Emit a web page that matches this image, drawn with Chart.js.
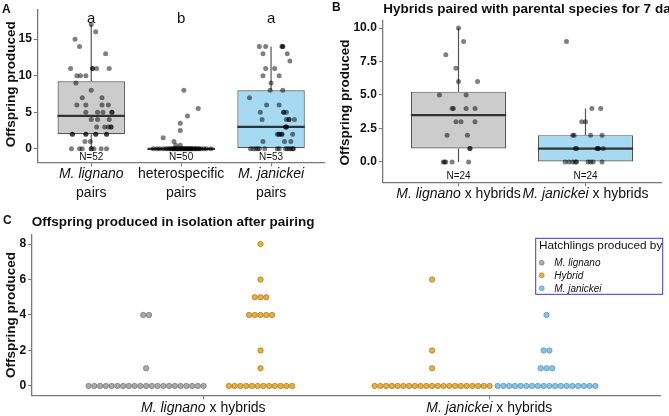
<!DOCTYPE html>
<html>
<head>
<meta charset="utf-8">
<script src="https://cdn.jsdelivr.net/npm/chart.js@4.4.1/dist/chart.umd.min.js"></script>
<style>
  body { margin: 0; background: #fff; }
  #wrap { position: relative; width: 669px; height: 416px; overflow: hidden; }
  canvas { position: absolute; }
</style>
</head>
<body>
<div id="wrap">
  <canvas id="panelA" width="330" height="205" style="left:0;top:0"></canvas>
  <canvas id="panelB" width="339" height="205" style="left:330px;top:0"></canvas>
  <canvas id="panelC" width="669" height="211" style="left:0;top:205px"></canvas>
</div>
<script>
// ---- DATA ----
// A: offspring produced per pair (jittered points)
const aCats = ['M. lignano', 'heterospecific', 'M. janickei'];
const aN = [52, 50, 53];
const aLetters = ['a', 'b', 'a'];
const aQ1 = [2, 0, 0];
const aMedian = [4.5, 0, 3];
const aQ3 = [9.25, 0, 8];
const aWhiskLo = [0, 0, 0];
const aWhiskHi = [17, 0, 14];
const aLignano = [17, 16, 15, 14, 13, 11, 11, 11, 11, 11, 10, 10, 10, 9, 8, 7, 7, 6, 6, 6, 6, 5, 5, 5, 5, 5,
  4, 4, 4, 3, 3, 3, 3, 3, 2, 2, 2, 2, 2, 2, 2, 2, 1, 1, 0, 0, 0, 0, 0, 0, 0, 0];
const aLignanoJit = [0, .05, -.18, -.13, .16, -.23, .015, .015, .06, .2, -.16, -.12, -.06, -.17, 0, -.1, .12,
  -.16, -.06, .12, .19, -.06, .07, .13, .23, .23, 0, .07, .2, .06, .15, .19, .22, .22, -.21, -.21, -.06, -.06,
  .05, .05, .17, .17, -.07, -.01, -.22, -.13, -.1, 0, 0, .03, .11, .17];
const aHetero = [8, 5.5, 4.5, 3.5, 2.5, 1.5, 1, 0.5, 0.5,
  0, 0, 0, 0, 0, 0, 0, 0, 0, 0, 0, 0, 0, 0, 0, 0, 0, 0, 0, 0, 0, 0, 0, 0, 0, 0, 0, 0, 0, 0, 0, 0, 0, 0, 0, 0, 0, 0, 0, 0, 0];
const aHeteroJit = [.03, .19, .07, -.01, -.01, -.2, -.08, -.06, -.01,
  -.31, -.27, -.24, -.2, -.17, -.15, -.13, -.12, -.1, -.09, -.08, -.07, -.06, -.05, -.04, -.03, -.02, 0, 0, .01,
  .02, .03, .04, .05, .06, .07, .08, .09, .1, .11, .12, .13, .15, .16, .17, .19, .2, .22, .25, .28, .33];
const aJanickei = [14, 14, 14, 14, 14, 13, 13, 12, 11, 11, 10, 10, 9, 8, 8, 7, 6, 6, 5, 5, 5, 5, 4, 4, 4, 4, 4,
  3, 3, 3, 2, 2, 2, 2, 2, 2, 1, 1, 1, 0, 0, 0, 0, 0, 0, 0, 0, 0, 0, 0, 0, 0, 0];
const aJanickeiJit = [-.13, -.06, .12, .13, .13, -.09, .18, .21, -.06, .04, -.09, .09, 0, -.01, .13, -.24, -.05, .09,
  -.12, .14, .14, .17, -.1, .17, .2, .2, .26, .16, .17, .17, .07, .09, .09, .12, .12, .24, -.09, .15, .22,
  -.23, -.2, -.17, -.15, -.13, -.07, .07, .09, .16, .18, .2, .22, .24, .25];

// B: hybrids paired with parental species for 7 days
const bCats = ['M. lignano', 'M. janickei'];
const bN = [24, 24];
const bQ1 = [1, 0];
const bMedian = [3.5, 1];
const bQ3 = [5.25, 2];
const bWhiskLo = [0, 0];
const bWhiskHi = [10, 4];
const bLignano = [10, 9, 8, 7, 6, 6, 5, 5, 4, 4, 4, 4, 3, 3, 3, 2, 2, 1, 1, 0, 0, 0, 0, 0];
const bLignanoJit = [0, .04, -.1, -.02, 0, .15, -.15, .06, -.05, -.04, .06, .13, -.02, .02, .13, -.09, .07, .09, .09,
  -.12, -.11, -.1, -.05, .08];
const bJanickei = [9, 4, 4, 3, 3, 2, 2, 2, 2, 1, 1, 1, 1, 1, 1, 0, 0, 0, 0, 0, 0, 0, 0, 0];
const bJanickeiJit = [-.15, .05, .12, -.03, 0, -.1, -.09, .04, .13, -.08, -.07, .09, .1, .1, .14,
  -.16, -.13, -.1, -.08, -.07, .02, .04, .06, .13];

// C: offspring produced in isolation after pairing (number of individuals per level)
const cCats = ['M. lignano', 'M. janickei'];
const isoLevels = [0, 1, 2, 4, 5, 6, 8];
const isoLigLig = [21, 1, 0, 2, 0, 0, 0];   // M. lignano x hybrids, hatchlings by M. lignano
const isoLigHyb = [12, 1, 1, 5, 3, 1, 1];   // M. lignano x hybrids, hatchlings by Hybrid
const isoJanHyb = [21, 1, 1, 0, 0, 1, 0];   // M. janickei x hybrids, hatchlings by Hybrid
const isoJanJan = [18, 3, 2, 1, 0, 0, 0];   // M. janickei x hybrids, hatchlings by M. janickei
const legendLabels = ['M. lignano', 'Hybrid', 'M. janickei'];

// ---- STYLE ----
const FONT = '"Liberation Sans", Arial, Helvetica, sans-serif';
const AXIS = '#7a7a7a';
const GREY_FILL = '#cccccc';
const BLUE_FILL = '#a6d9f2';
const PT = 'rgba(0,0,0,0.5)';
const DOT_COLORS = ['#a9a9a9', '#e8b03e', '#86c4ea'];
const DOT_BORDERS = ['#666', '#8a6a22', '#4f7f9f'];
const DOT_STEP = 0.0201;

Chart.defaults.font.family = FONT;

function yAxis(min, max, tickVals, width, fmt) {
  return {
    type: 'linear', position: 'left', min, max,
    afterFit: s => { s.width = width; },
    afterBuildTicks: s => { s.ticks = tickVals.map(v => ({ value: v })); },
    border: { display: true, color: AXIS, width: 1.3 },
    grid: { drawOnChartArea: false, drawTicks: true, tickLength: 3.5, color: AXIS, lineWidth: 1.1 },
    ticks: { padding: 2, color: '#111', autoSkip: false, font: { size: 12, weight: 'bold' }, callback: v => fmt(v) }
  };
}

function xAxis(n, height) {
  return {
    type: 'linear', position: 'bottom', min: 0.4, max: n + 0.6, offset: false,
    afterFit: s => { s.height = height; },
    afterBuildTicks: s => { s.ticks = Array.from({ length: n }, (_, i) => ({ value: i + 1 })); },
    border: { display: true, color: AXIS, width: 1.3 },
    grid: { drawOnChartArea: false, drawTicks: true, tickLength: 3.5, color: AXIS, lineWidth: 1.1, offset: false },
    ticks: { autoSkip: false, callback: () => '' }
  };
}

function seg(data, color, width, order) {
  return { type: 'line', data, borderColor: color, borderWidth: width, pointRadius: 0, fill: false, tension: 0, order };
}

function boxDatasets(q1, med, q3, lo, hi, fills) {
  const ds = [{
    type: 'bar',
    data: q1.map((q, i) => ({ x: i + 1, y: [q, q3[i]] })),
    backgroundColor: fills, borderColor: '#555', borderWidth: 1.2, borderSkipped: false,
    barPercentage: 0.75, categoryPercentage: 1, order: 4
  }];
  q1.forEach((q, i) => {
    const c = i + 1;
    ds.push(seg([{ x: c - 0.375, y: med[i] }, { x: c + 0.375, y: med[i] }], '#333', 2.2, 1));
    if (hi[i] > q3[i]) ds.push(seg([{ x: c, y: q3[i] }, { x: c, y: hi[i] }], '#555', 1.2, 3));
    if (lo[i] < q1[i]) ds.push(seg([{ x: c, y: lo[i] }, { x: c, y: q1[i] }], '#555', 1.2, 3));
  });
  return ds;
}

function jitterPoints(cat, vals, jit) {
  return vals.map((v, i) => ({ x: cat + jit[i], y: v }));
}

function stackDots(cat, side, counts) {
  const pts = [];
  isoLevels.forEach((v, k) => {
    const n = counts[k];
    for (let j = 0; j < n; j++) pts.push({ x: cat + side + (j - (n - 1) / 2) * DOT_STEP, y: v });
  });
  return pts;
}

// text with italic species name followed by plain text, centred on cx
function mixedText(ctx, parts, cx, y, size) {
  let total = 0;
  parts.forEach(p => { ctx.font = (p[1] ? 'italic ' : '') + size + 'px ' + FONT; total += ctx.measureText(p[0]).width; });
  let x = cx - total / 2;
  ctx.textAlign = 'left';
  parts.forEach(p => {
    ctx.font = (p[1] ? 'italic ' : '') + size + 'px ' + FONT;
    ctx.fillText(p[0], x, y);
    x += ctx.measureText(p[0]).width;
  });
}

function yTitle(ctx, text, x, y, size) {
  ctx.save();
  ctx.translate(x, y);
  ctx.rotate(-Math.PI / 2);
  ctx.font = 'bold ' + size + 'px ' + FONT;
  ctx.textAlign = 'center';
  ctx.textBaseline = 'alphabetic';
  ctx.fillStyle = '#111';
  ctx.fillText(text, 0, 0);
  ctx.restore();
}

function textPlugin(draw) {
  return { id: 'panelText', afterDraw(chart) { const ctx = chart.ctx; ctx.save(); ctx.fillStyle = '#111'; draw(chart, ctx); ctx.restore(); } };
}

const baseOpts = {
  responsive: false, animation: false, events: [],
  plugins: { legend: { display: false }, tooltip: { enabled: false } }
};

// ---- PANEL A ----
new Chart(document.getElementById('panelA'), {
  type: 'scatter',
  data: {
    datasets: [
      { data: jitterPoints(1, aLignano, aLignanoJit).concat(jitterPoints(2, aHetero, aHeteroJit), jitterPoints(3, aJanickei, aJanickeiJit)),
        backgroundColor: PT, borderWidth: 0, pointRadius: 2.5, order: 0 },
      ...boxDatasets(aQ1, aMedian, aQ3, aWhiskLo, aWhiskHi, [GREY_FILL, GREY_FILL, BLUE_FILL])
    ]
  },
  options: {
    ...baseOpts,
    layout: { padding: { top: 2, right: 5, left: 0, bottom: 0 } },
    scales: { x: xAxis(3, 42.3), y: yAxis(-1.9, 19.1, [0, 5, 10, 15], 37.3, v => String(v)) }
  },
  plugins: [textPlugin((chart, ctx) => {
    const xs = chart.scales.x, ys = chart.scales.y;
    ctx.font = 'bold 12px ' + FONT; ctx.textAlign = 'left';
    ctx.fillText('A', 2, 12.7);
    yTitle(ctx, 'Offspring produced', 15, 84.2, 13.5);
    aCats.forEach((c, i) => {
      const cx = xs.getPixelForValue(i + 1);
      ctx.textAlign = 'center';
      ctx.font = '15px ' + FONT;
      ctx.fillText(aLetters[i], cx, ys.getPixelForValue(17.25));
      ctx.font = '10px ' + FONT;
      ctx.fillText('N=' + aN[i], cx, ys.getPixelForValue(-1.48));
      mixedText(ctx, [[c, c.startsWith('M.')]], cx, 177.7, 14);
      mixedText(ctx, [['pairs', false]], cx, 196.7, 14);
    });
  })]
});

// ---- PANEL B ----
new Chart(document.getElementById('panelB'), {
  type: 'scatter',
  data: {
    datasets: [
      { data: jitterPoints(1, bLignano, bLignanoJit).concat(jitterPoints(2, bJanickei, bJanickeiJit)),
        backgroundColor: PT, borderWidth: 0, pointRadius: 2.5, order: 0 },
      ...boxDatasets(bQ1, bMedian, bQ3, bWhiskLo, bWhiskHi, [GREY_FILL, BLUE_FILL])
    ]
  },
  options: {
    ...baseOpts,
    layout: { padding: { top: 20.7, right: 7.3, left: 0, bottom: 0 } },
    scales: { x: xAxis(2, 22.3), y: yAxis(-1.55, 10.55, [0, 2.5, 5, 7.5, 10], 52.3, v => v.toFixed(1)) }
  },
  plugins: [textPlugin((chart, ctx) => {
    const xs = chart.scales.x, ys = chart.scales.y;
    ctx.font = 'bold 12px ' + FONT; ctx.textAlign = 'left';
    ctx.fillText('B', 2, 11);
    ctx.font = 'bold 13.5px ' + FONT;
    ctx.fillText('Hybrids paired with parental species for 7 days', chart.chartArea.left + 1, 13.3);
    yTitle(ctx, 'Offspring produced', 19, 102.5, 13.5);
    bCats.forEach((c, i) => {
      const cx = xs.getPixelForValue(i + 1);
      ctx.textAlign = 'center';
      ctx.font = '10px ' + FONT;
      ctx.fillText('N=' + bN[i], cx, ys.getPixelForValue(-1.25));
      mixedText(ctx, [[c, true], [' x hybrids', false]], cx, 198.3, 14);
    });
  })]
});

// ---- PANEL C ----
const dotStyle = k => ({ backgroundColor: DOT_COLORS[k], borderColor: DOT_BORDERS[k], borderWidth: 0.6, pointRadius: 2.7 });
new Chart(document.getElementById('panelC'), {
  type: 'scatter',
  data: {
    datasets: [
      { data: stackDots(1, -0.2, isoLigLig), ...dotStyle(0) },
      { data: stackDots(1, 0.2, isoLigHyb).concat(stackDots(2, -0.2, isoJanHyb)), ...dotStyle(1) },
      { data: stackDots(2, 0.2, isoJanJan), ...dotStyle(2) }
    ]
  },
  options: {
    ...baseOpts,
    layout: { padding: { top: 29.3, right: 8.1, left: 0, bottom: 0 } },
    scales: { x: xAxis(2, 20.3), y: yAxis(-0.55, 8.55, [0, 2, 4, 6, 8], 31.7, v => String(v)) }
  },
  plugins: [textPlugin((chart, ctx) => {
    const xs = chart.scales.x;
    ctx.font = 'bold 12px ' + FONT; ctx.textAlign = 'left';
    ctx.fillText('C', 3, 19.3);
    ctx.font = 'bold 13.5px ' + FONT;
    ctx.fillText('Offspring produced in isolation after pairing', chart.chartArea.left, 20.7);
    yTitle(ctx, 'Offspring produced', 15, 110, 13.5);
    cCats.forEach((c, i) => {
      mixedText(ctx, [[c, true], [' x hybrids', false]], xs.getPixelForValue(i + 1), 207.3, 14);
    });
    // legend box
    ctx.strokeStyle = '#3f3fa6'; ctx.lineWidth = 1;
    ctx.strokeRect(535.7, 33.3, 127, 56);
    ctx.fillStyle = '#111'; ctx.textAlign = 'left';
    ctx.font = '11.8px ' + FONT;
    ctx.fillText('Hatchlings produced by', 539, 44.3);
    const rows = [57.7, 70.3, 83.3];
    legendLabels.forEach((lab, k) => {
      ctx.beginPath();
      ctx.arc(541.7, rows[k], 2.5, 0, Math.PI * 2);
      ctx.fillStyle = DOT_COLORS[k]; ctx.fill();
      ctx.strokeStyle = DOT_BORDERS[k]; ctx.lineWidth = 0.5; ctx.stroke();
      ctx.fillStyle = '#111';
      ctx.font = 'italic 10px ' + FONT;
      ctx.fillText(lab, 554.3, rows[k] + 3.5);
    });
  })]
});
</script>
</body>
</html>
